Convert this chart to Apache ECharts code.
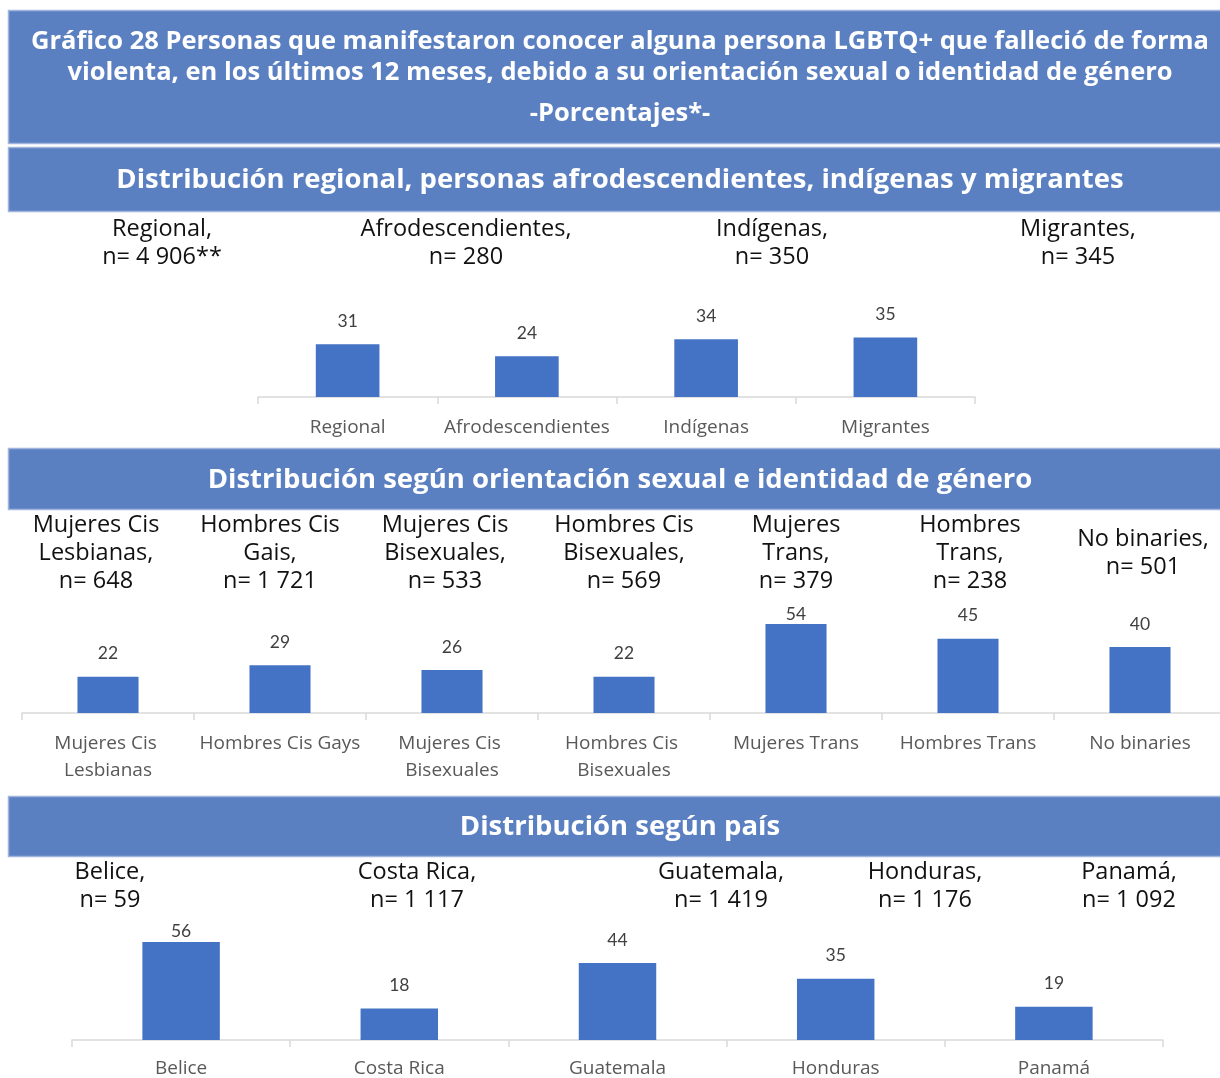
<!DOCTYPE html>
<html>
<head>
<meta charset="utf-8">
<script src="https://cdn.jsdelivr.net/npm/echarts@6/dist/echarts.min.js"></script>
<style>
  html, body { margin: 0; padding: 0; background: #ffffff; }
  #chart { width: 1220px; height: 1078px; }
</style>
</head>
<body>
<div id="chart"></div>
<script>
// ---- Data ----
const titleLines = [
  'Gráfico 28 Personas que manifestaron conocer alguna persona LGBTQ+ que falleció de forma',
  'violenta, en los últimos 12 meses, debido a su orientación sexual o identidad de género',
  '-Porcentajes*-'
];
const sectionTitles = [
  'Distribución regional, personas afrodescendientes, indígenas y migrantes',
  'Distribución según orientación sexual e identidad de género',
  'Distribución según país'
];

// Regional / population groups
const groupCategories = ['Regional', 'Afrodescendientes', 'Indígenas', 'Migrantes'];
const groupValues = [31, 24, 34, 35];
const groupHeads = ['Regional,', 'Afrodescendientes,', 'Indígenas,', 'Migrantes,'];
const groupSizes = ['4 906**', '280', '350', '345'];

// Sexual orientation and gender identity
const identityCategories = ['Mujeres Cis Lesbianas', 'Hombres Cis Gays', 'Mujeres Cis Bisexuales',
  'Hombres Cis Bisexuales', 'Mujeres Trans', 'Hombres Trans', 'No binaries'];
const identityValues = [22, 29, 26, 22, 54, 45, 40];
const identityHeads = ['Mujeres Cis\nLesbianas,', 'Hombres Cis\nGais,', 'Mujeres Cis\nBisexuales,',
  'Hombres Cis\nBisexuales,', 'Mujeres\nTrans,', 'Hombres\nTrans,', 'No binaries,'];
const identitySizes = ['648', '1 721', '533', '569', '379', '238', '501'];

// Countries
const countryCategories = ['Belice', 'Costa Rica', 'Guatemala', 'Honduras', 'Panamá'];
const countryValues = [56, 18, 44, 35, 19];
const countryHeads = ['Belice,', 'Costa Rica,', 'Guatemala,', 'Honduras,', 'Panamá,'];
const countrySizes = ['59', '1 117', '1 419', '1 176', '1 092'];

// ---- Layout ----
const W = 1220;
const BOX = '#5b80c1';
const BOX_EDGE = '#9fb5dc';
const BAR = '#4472c4';
const HEAD_FONT = '"Open Sans", "Liberation Sans", Arial, sans-serif';
const AXIS_FONT = '"Open Sans", Lato, sans-serif';
const VALUE_FONT = 'Lato, "Open Sans", sans-serif';
const VALUE_SIZE = 17.5;
const VALUE_GAP = 14;

// labelCeiling: highest pixel row a value label may reach inside its plot
const panels = [
  { cats: groupCategories, vals: groupValues, heads: groupHeads, sizes: groupSizes,
    grid: { left: 258, top: 227, width: 717, height: 170 },
    headX: [162, 466, 772, 1078], headY: 243, labelMargin: 17, labelCeiling: 0 },
  { cats: identityCategories, vals: identityValues, heads: identityHeads, sizes: identitySizes,
    grid: { left: 22, top: 548, width: 1204, height: 165 },
    headX: [96, 270, 445, 624, 796, 970, 1143], headY: 553, labelMargin: 17, labelCeiling: 603 },
  { cats: countryCategories, vals: countryValues, heads: countryHeads, sizes: countrySizes,
    grid: { left: 72, top: 865, width: 1091, height: 175 },
    headX: [110, 417, 721, 925, 1129], headY: 886, labelMargin: 15, labelCeiling: 920 }
];

const boxes = [
  { y: 10, h: 133 },
  { y: 147, h: 64 },
  { y: 448, h: 61 },
  { y: 796, h: 60 }
];

const graphic = [];
boxes.forEach(b => {
  graphic.push({
    type: 'rect', silent: true,
    shape: { x: 8.5, y: b.y + 0.5, width: W, height: b.h },
    style: { fill: BOX, stroke: BOX_EDGE, lineWidth: 1.5 }
  });
});

const titleY = [42, 73, 114];
titleLines.forEach((t, i) => {
  graphic.push({
    type: 'text', silent: true, x: 620, y: titleY[i],
    style: { text: t, fill: '#ffffff', font: 'bold 25.5px ' + HEAD_FONT,
             textAlign: 'center', textVerticalAlign: 'middle' }
  });
});

const sectionY = [180, 480, 827];
sectionTitles.forEach((t, i) => {
  graphic.push({
    type: 'text', silent: true, x: 620, y: sectionY[i],
    style: { text: t, fill: '#ffffff', font: 'bold 27.5px ' + HEAD_FONT,
             textAlign: 'center', textVerticalAlign: 'middle' }
  });
});

panels.forEach(p => {
  p.heads.forEach((h, i) => {
    graphic.push({
      type: 'text', silent: true, x: p.headX[i], y: p.headY,
      style: { text: h + '\nn= ' + p.sizes[i], fill: '#111111',
               font: '23.5px ' + HEAD_FONT, lineHeight: 28,
               textAlign: 'center', textVerticalAlign: 'middle' }
    });
  });
});

// ---- Axes and bars ----
const grids = [], xAxes = [], yAxes = [], series = [];
panels.forEach((p, k) => {
  grids.push(Object.assign({ containLabel: false, outerBoundsMode: 'none' }, p.grid));
  const catWidth = p.grid.width / p.cats.length;
  const bottom = p.grid.top + p.grid.height;
  xAxes.push({
    type: 'category', gridIndex: k, data: p.cats,
    axisLine: { lineStyle: { color: '#d9d9d9', width: 1.5 } },
    axisTick: { show: true, length: 7, lineStyle: { color: '#d9d9d9', width: 1.5 } },
    axisLabel: { color: '#595959', fontSize: 19, fontFamily: AXIS_FONT,
                 margin: p.labelMargin, lineHeight: 27, width: catWidth - 4,
                 overflow: 'break', interval: 0 }
  });
  yAxes.push({ type: 'value', gridIndex: k, min: 0, max: 100, show: false });
  series.push({
    type: 'bar', xAxisIndex: k, yAxisIndex: k, barWidth: '35.5%',
    itemStyle: { color: BAR },
    label: { show: true, position: 'top', color: '#404040', fontSize: VALUE_SIZE,
             fontFamily: VALUE_FONT },
    data: p.vals.map(v => {
      // keep the value label inside the plot: pull it down toward the bar when it would rise too high
      const barTop = bottom - v / 100 * p.grid.height;
      const room = barTop - VALUE_SIZE * 1.15 - p.labelCeiling;
      return { value: v, label: { distance: Math.max(0, Math.min(VALUE_GAP, room)) } };
    })
  });
});

const chart = echarts.init(document.getElementById('chart'), null, { renderer: 'canvas' });
chart.setOption({
  animation: false,
  backgroundColor: '#ffffff',
  grid: grids,
  xAxis: xAxes,
  yAxis: yAxes,
  series: series,
  graphic: graphic
});
</script>
</body>
</html>
